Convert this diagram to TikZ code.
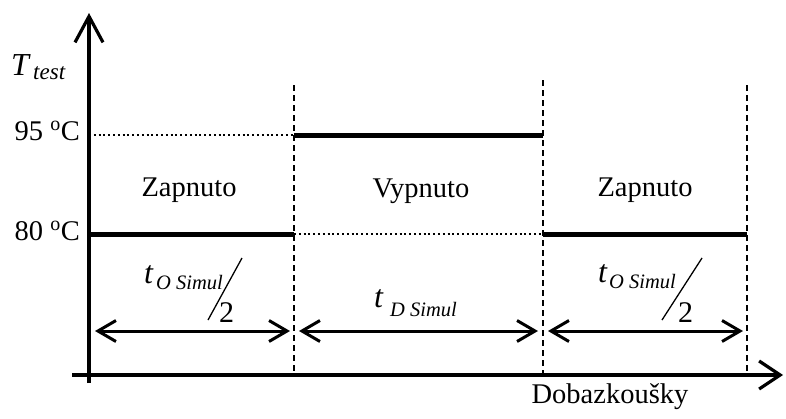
\documentclass[tikz,border=0pt]{standalone}
\usepackage{fontspec}
\setmainfont{Liberation Serif}
\usetikzlibrary{arrows.meta}

\tikzset{
  axisline/.style={line width=3.2pt},
  yhead/.style={-{Straight Barb[length=26pt,width=28pt]}},
  xhead/.style={-{Straight Barb[length=21pt,width=28pt]}},
  level/.style={line width=5pt},
  guide/.style={line width=1.3pt, dash pattern=on 6pt off 4pt},
  dots/.style={line width=2pt, dash pattern=on 2pt off 2.8pt},
  span/.style={line width=3pt,
    {Straight Barb[length=18pt,width=21pt]}-{Straight Barb[length=18pt,width=21pt]}},
  lbl/.style={font=\fontsize{28.5}{34}\selectfont, inner sep=0pt},
  tvar/.style={font=\fontsize{32}{36}\selectfont\itshape, inner sep=0pt, anchor=base west},
  tsub/.style={font=\fontsize{20.5}{24}\selectfont\itshape, inner sep=0pt, anchor=base west},
  half/.style={font=\fontsize{30}{34}\selectfont, inner sep=0pt, anchor=base west},
  slash/.style={line width=1.3pt}
}

\begin{document}
\begin{tikzpicture}[x=1pt,y=-1pt]
\useasboundingbox (0,0) rectangle (786,418);

% axes
\coordinate (yb) at (89,383);
\coordinate (yt) at (89,13);
\coordinate (xl) at (72,375);
\coordinate (xr) at (783,375);
\draw[axisline,yhead] (yb) -- (yt);
\draw[axisline,xhead] (xl) -- (xr);

% phase boundaries
\coordinate (b1t) at (294,85);  \coordinate (b1b) at (294,375);
\coordinate (b2t) at (543,80);  \coordinate (b2b) at (543,375);
\coordinate (b3t) at (747,85);  \coordinate (b3b) at (747,375);
\draw[guide] (b1t) -- (b1b);
\draw[guide] (b2t) -- (b2b);
\draw[guide] (b3t) -- (b3b);

% temperature levels
\coordinate (h0) at (89,135);  \coordinate (h1) at (294,135);  \coordinate (h2) at (543,135);
\coordinate (l0) at (89,234);  \coordinate (l1) at (294,234);  \coordinate (l2) at (543,234);
\coordinate (l3) at (747,234);
\draw[level] (l0) -- (l1);
\draw[level] (h1) -- (h2);
\draw[level] (l2) -- (l3);
\draw[dots] (h0) -- (h1);
\draw[dots] (l1) -- (l2);

% axis labels
\node[font=\fontsize{32}{36}\selectfont\itshape, inner sep=0pt, anchor=base west] (tT) at (11,75) {T};
\node[font=\fontsize{23}{26}\selectfont\itshape, inner sep=0pt, anchor=base west] (tTs) at (33,79) {test};
\node[lbl, anchor=base east] (t95) at (80,140) {95 \textsuperscript{o}C};
\node[lbl, anchor=base east] (t80) at (80,240) {80 \textsuperscript{o}C};
\node[lbl, anchor=base] (xlab) at (610,403) {Dobazkoušky};

% phase names
\node[lbl, anchor=base] (z1) at (189,196) {Zapnuto};
\node[lbl, anchor=base] (v1) at (421,197) {Vypnuto};
\node[lbl, anchor=base] (z2) at (645,196) {Zapnuto};

% durations
\coordinate (a1l) at (95,331);  \coordinate (a1r) at (290,331);
\coordinate (a2l) at (299,331); \coordinate (a2r) at (538,331);
\coordinate (a3l) at (548,331); \coordinate (a3r) at (743,331);
\draw[span] (a1l) -- (a1r);
\draw[span] (a2l) -- (a2r);
\draw[span] (a3l) -- (a3r);

% t_O Simul / 2 (first)
\node[tvar] (o1t) at (144,283) {t};
\node[tsub] (o1s) at (156,289) {O Simul};
\coordinate (o1a) at (208,320); \coordinate (o1b) at (242,258);
\draw[slash] (o1a) -- (o1b);
\node[half] (o1h) at (219,322) {2};

% t_D Simul
\node[tvar] (dt) at (374,307) {t};
\node[tsub] (ds) at (390,316) {D Simul};

% t_O Simul / 2 (second)
\node[tvar] (o2t) at (598,282) {t};
\node[tsub] (o2s) at (609,288) {O Simul};
\coordinate (o2a) at (662,320); \coordinate (o2b) at (702,258);
\draw[slash] (o2a) -- (o2b);
\node[half] (o2h) at (678,322) {2};
\end{tikzpicture}
\end{document}
